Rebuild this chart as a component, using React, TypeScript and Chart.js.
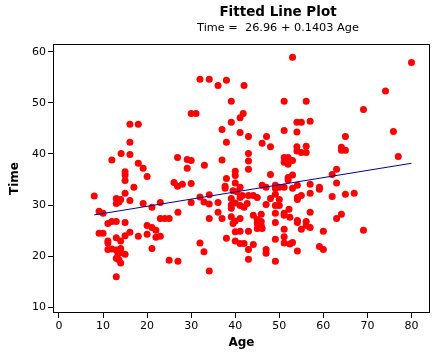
import React, { useEffect, useRef } from "react";
import { Chart, registerables } from "chart.js";

Chart.register(...registerables);

const titleText = "Fitted Line Plot";
const subtitleText = "Time =  26.96 + 0.1403 Age";
const xAxisTitle = "Age";
const yAxisTitle = "Time";

const xTicks = [0, 10, 20, 30, 40, 50, 60, 70, 80];
const yTicks = [10, 20, 30, 40, 50, 60];

// observed data (Age, Time)
const ages = [
  8.0, 9.1, 10.0, 9.1, 10.0, 11.1, 12.0, 13.0, 15.0, 11.1,
  11.1, 11.1, 12.0, 13.0, 14.0, 13.4, 14.0, 15.0, 13.0, 13.6,
  14.0, 13.0, 13.0, 14.0, 15.0, 16.1, 18.0, 13.0, 14.0, 13.0,
  13.6, 15.0, 16.1, 19.1, 21.1, 23.0, 17.0, 15.0, 15.0, 15.0,
  20.0, 12.0, 14.1, 16.1, 18.0, 19.1, 16.1, 16.1, 18.0, 20.0,
  21.1, 22.0, 20.0, 22.0, 23.0, 23.0, 24.0, 25.0, 21.1, 25.0,
  27.0, 27.0, 26.1, 26.9, 28.0, 30.0, 26.9, 29.1, 30.0, 29.1, 33.0,
  32.0, 34.1, 36.1, 38.0, 42.0, 39.1, 30.0, 31.1, 39.1, 41.1,
  41.8, 37.0, 41.1, 38.0, 37.0, 40.0, 40.0, 38.0, 40.0, 53.0,
  51.1, 43.0, 47.1, 46.1, 48.0, 51.1, 54.0, 54.0, 54.0, 54.0,
  43.0, 43.0, 43.0, 48.0, 51.1, 52.0, 51.1, 53.0, 52.0, 52.0,
  53.0, 56.1, 55.0, 57.0, 56.1, 55.0, 56.1,
  74.1, 69.1, 65.0, 64.1, 65.0, 64.1, 63.0, 62.0, 63.0, 80.0, 75.9,
  77.0, 69.1, 67.0, 65.0, 62.0, 64.1, 63.0, 60.0, 60.0, 59.1,
  57.0, 54.1, 53.0, 59.1, 59.1, 54.1, 55.0, 54.1, 57.0,
  52.2, 57.0, 54.1, 54.1, 56.1, 56.1, 57.0, 55.0, 52.4, 53.0, 52.4, 54.1,
  46.1, 47.0, 49.1, 49.1, 50.0, 51.1, 52.0, 41.1, 41.1, 41.6,
  43.0, 44.1, 45.0, 42.7, 42.0, 41.1, 47.0, 48.0, 49.1, 50.0,
  50.0, 49.1, 49.1, 51.1, 51.1, 41.1, 44.1, 45.9, 45.0, 45.9,
  45.0, 45.9, 45.0, 46.1, 41.1, 43.0, 49.1, 51.1, 51.1, 51.1,
  49.1, 42.0, 44.1, 43.0, 47.0, 47.0, 43.0, 49.1,
  37.7, 37.7, 39.5, 40.4, 34.1, 32.0, 32.9, 30.0, 36.1, 39.1,
  39.1, 40.0, 34.1, 34.1, 36.1, 37.0, 39.1, 39.1, 40.0, 39.5,
  40.0, 40.0, 38.0, 32.0, 32.9, 34.1, 41.1,
];

const times = [
  31.8, 28.8, 28.4, 24.5, 24.5, 26.4, 26.8, 26.8, 26.6, 23.0,
  22.6, 21.3, 21.4, 21.2, 21.5, 20.5, 20.7, 20.4, 19.6, 19.3,
  18.7, 16.0, 23.6, 23.0, 24.0, 24.7, 23.9, 31.3, 31.1, 30.3,
  30.6, 32.3, 30.9, 30.3, 29.6, 30.5, 33.5, 36.5, 35.9, 34.8,
  35.6, 38.8, 40.1, 39.9, 38.2, 37.2, 42.3, 45.8, 45.8, 26.0,
  25.6, 25.1, 24.3, 23.7, 23.9, 27.4, 27.4, 27.4, 21.5, 19.2,
  19.0, 28.6, 34.4, 33.7, 34.1, 34.2, 39.3, 38.9, 38.7, 37.2, 37.8,
  54.6, 54.6, 53.4, 54.4, 53.4, 50.3, 47.9, 47.9, 46.2, 47.1,
  47.9, 44.8, 44.2, 42.3, 38.8, 36.6, 35.8, 35.2, 34.3, 58.9,
  50.3, 43.4, 43.4, 42.1, 41.4, 44.6, 46.2, 44.3, 41.4, 40.6,
  40.1, 38.6, 37.0, 36.0, 39.3, 39.3, 38.4, 38.7, 38.0, 35.4,
  35.9, 50.3, 46.2, 46.4, 41.5, 40.3, 40.3,
  52.3, 48.7, 43.4, 41.3, 40.7, 40.7, 37.0, 36.0, 34.3, 57.9, 44.4,
  39.5, 25.1, 32.3, 32.1, 31.7, 28.2, 27.4, 24.9, 21.3, 21.9,
  34.1, 33.9, 33.3, 33.5, 33.1, 31.1, 31.9, 31.5, 32.3,
  29.2, 28.6, 27.0, 26.6, 26.8, 26.0, 25.6, 25.3, 27.6, 22.7, 22.4, 21.0,
  33.9, 33.5, 33.9, 33.3, 33.5, 33.5, 34.9, 33.5, 31.5, 31.9,
  31.9, 31.9, 31.5, 30.3, 29.6, 29.9, 30.1, 31.3, 32.1, 31.1,
  29.9, 29.9, 28.4, 28.4, 28.0, 27.4, 28.0, 28.2, 27.2, 26.8,
  26.4, 26.0, 25.4, 25.4, 24.9, 24.9, 26.6, 25.3, 23.8, 22.6,
  23.3, 22.5, 22.3, 21.3, 21.3, 20.6, 19.4, 19.0,
  33.7, 33.3, 32.8, 32.6, 32.0, 31.6, 30.6, 30.5, 30.5, 31.3,
  30.0, 30.4, 30.2, 27.4, 28.6, 27.4, 29.4, 27.7, 26.9, 26.4,
  24.8, 23.0, 23.5, 22.6, 20.9, 17.1, 22.5,
];

// fitted line end points
const fitAges = [8, 80];
const fitTimes = [28.08, 38.18];

const FONT = "DejaVu Sans";

const frameAndTitles = {
  id: "frameAndTitles",
  afterDraw(chart: any) {
    const { ctx, chartArea } = chart;
    ctx.save();
    ctx.strokeStyle = "#000";
    ctx.lineWidth = 1;
    const l = Math.round(chartArea.left) + 0.5;
    const t = Math.round(chartArea.top) + 0.5;
    const r = Math.round(chartArea.right) - 0.5;
    const b = Math.round(chartArea.bottom) - 0.5;
    ctx.strokeRect(l, t, r - l, b - t);
    ctx.fillStyle = "#000";
    ctx.textAlign = "center";
    ctx.textBaseline = "alphabetic";
    ctx.font = `bold 13.5px "${FONT}"`;
    ctx.fillText(titleText, 278, 15.5);
    ctx.font = `11.3px "${FONT}"`;
    ctx.fillText(subtitleText, 278, 30.5);
    ctx.restore();
  },
};

export default function App() {
  const ref = useRef<HTMLCanvasElement>(null);
  useEffect(() => {
    document.body.style.margin = "0";
    const scatterData = ages.map((a, i) => ({ x: a, y: times[i] }));
    const fitData = fitAges.map((a, i) => ({ x: a, y: fitTimes[i] }));
    const chart = new Chart(ref.current as HTMLCanvasElement, {
      type: "scatter",
      data: {
        datasets: [
          {
            type: "line",
            label: "Fit",
            data: fitData,
            borderColor: "#0000a0",
            borderWidth: 1,
            pointRadius: 0,
            fill: false,
            order: 0,
          } as any,
          {
            type: "scatter",
            label: "Time",
            data: scatterData,
            pointRadius: 3.5,
            pointBackgroundColor: "#ff0000",
            pointBorderColor: "#ff0000",
            pointBorderWidth: 0,
            order: 1,
          } as any,
        ],
      },
      plugins: [frameAndTitles],
      options: {
        animation: false,
        responsive: false,
        devicePixelRatio: 1,
        layout: { padding: { top: 44, right: 7, left: 0, bottom: 0 } },
        plugins: {
          legend: { display: false },
          tooltip: { enabled: false },
        },
        scales: {
          x: {
            type: "linear",
            min: -1.36,
            max: 84.2,
            afterBuildTicks: (s: any) => {
              s.ticks = xTicks.map((v) => ({ value: v }));
            },
            afterFit: (s: any) => {
              s.height = 43;
            },
            grid: { drawOnChartArea: false, drawTicks: true, tickLength: 5, color: "#000" },
            border: { display: false },
            ticks: {
              color: "#000",
              font: { family: FONT, size: 11 },
              padding: 2,
              maxRotation: 0,
              autoSkip: false,
            },
            title: {
              display: true,
              text: xAxisTitle,
              color: "#000",
              font: { family: FONT, size: 12, weight: "bold" },
              padding: { top: 0, bottom: 6 },
            },
          },
          y: {
            type: "linear",
            min: 8.9,
            max: 61.5,
            afterBuildTicks: (s: any) => {
              s.ticks = yTicks.map((v) => ({ value: v }));
            },
            afterFit: (s: any) => {
              s.width = 53;
            },
            grid: { drawOnChartArea: false, drawTicks: true, tickLength: 5, color: "#000" },
            border: { display: false },
            ticks: {
              color: "#000",
              font: { family: FONT, size: 11 },
              padding: 2,
              autoSkip: false,
            },
            title: {
              display: true,
              text: yAxisTitle,
              color: "#000",
              font: { family: FONT, size: 12, weight: "bold" },
              padding: { top: 8, bottom: 0 },
            },
          },
        },
      } as any,
    });
    return () => chart.destroy();
  }, []);
  return (
    <div style={{ width: 437, height: 356 }}>
      <canvas ref={ref} width={437} height={356} style={{ display: "block" }} />
    </div>
  );
}
